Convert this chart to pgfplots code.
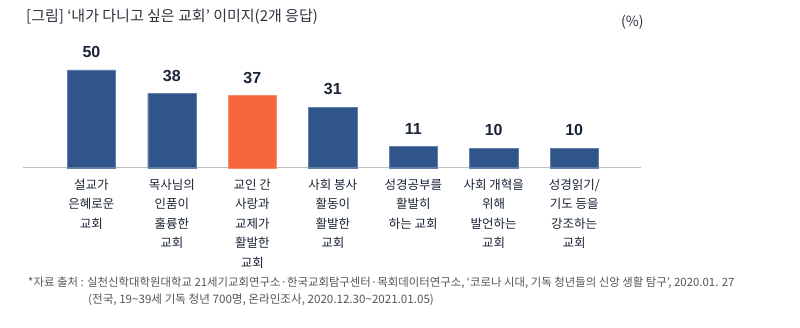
\documentclass[border=0pt]{standalone}
\usepackage{fontspec}
\usepackage{pgfplots}
\pgfplotsset{compat=1.18}
\setmainfont{Noto Sans CJK KR}
\newfontfamily\numfont{Liberation Sans}
\definecolor{barblue}{RGB}{47,85,139}
\definecolor{barorange}{RGB}{248,102,61}
\definecolor{txtnavy}{RGB}{25,36,52}
\definecolor{titlegrey}{RGB}{45,50,60}
\definecolor{footgrey}{RGB}{85,85,85}
\definecolor{axisgrey}{RGB}{190,190,190}
\begin{document}
\begin{tikzpicture}[x=1pt,y=1pt]
\path[use as bounding box] (0,0) rectangle (800,327);
\begin{axis}[at={(23pt,159.3pt)}, anchor=south west, scale only axis,
  width=618pt, height=107.5pt,
  xmin=-0.85, xmax=6.83, ymin=0, ymax=55,
  axis x line*=bottom, axis y line=none,
  x axis line style={axisgrey, line width=1pt, -},
  xtick={0,...,6}, major tick length=0pt, ytick=\empty,
  xticklabels={{설교가\\은혜로운\\교회},{목사님의\\인품이\\훌륭한\\교회},{교인 간\\사랑과\\교제가\\활발한\\교회},{사회 봉사\\활동이\\활발한\\교회},{성경공부를\\활발히\\하는 교회},{사회 개혁을\\위해\\발언하는\\교회},{성경읽기/\\기도 등을\\강조하는\\교회}},
  xticklabel style={font=\fontsize{12.5}{19.5}\selectfont, align=center, anchor=north, inner sep=0pt, yshift=-11pt, text=txtnavy},
  ybar, bar width=0.6, bar shift=0pt,
  nodes near coords={\pgfmathprintnumber[assume math mode=true]{\pgfplotspointmeta}},
  nodes near coords style={font=\numfont\bfseries\fontsize{16}{16}\selectfont, text=txtnavy, inner sep=0pt, anchor=south, yshift=12pt},
  clip=false]
\addplot[fill=barblue, draw=barblue!75!white] coordinates {(0,50) (1,38) (3,31) (4,11) (5,10) (6,10)};
\addplot[fill=barorange, draw=barorange!75!white] coordinates {(2,37)};
\end{axis}
\node[anchor=west, inner sep=0pt, font=\fontsize{15}{15}\selectfont, text=titlegrey] at (26,310) {[그림] ‘내가 다니고 싶은 교회’ 이미지(2개 응답)};
\node[anchor=west, inner sep=0pt, font=\fontsize{14}{14}\selectfont, text=titlegrey] at (621,305) {(\%)};
\node[anchor=west, inner sep=0pt, font=\fontsize{11.4}{11.4}\selectfont, text=footgrey] at (28,44) {*자료 출처 : 실천신학대학원대학교 21세기교회연구소·한국교회탐구센터·목회데이터연구소, ‘코로나 시대, 기독 청년들의 신앙 생활 탐구’, 2020.01. 27};
\node[anchor=west, inner sep=0pt, font=\fontsize{11.6}{11.6}\selectfont, text=footgrey] at (88,27) {(전국, 19\textasciitilde 39세 기독 청년 700명, 온라인조사, 2020.12.30\textasciitilde 2021.01.05)};
\end{tikzpicture}
\end{document}
